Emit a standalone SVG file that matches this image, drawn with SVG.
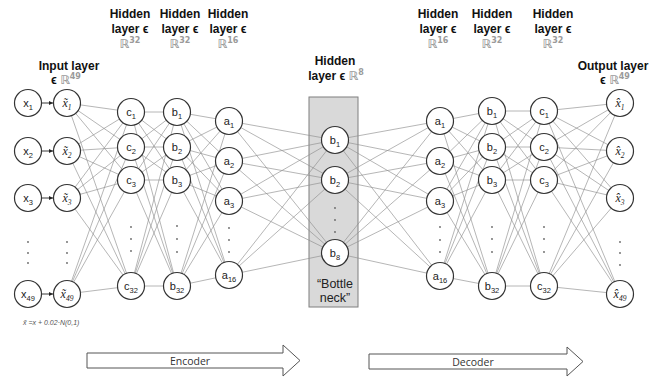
<svg xmlns="http://www.w3.org/2000/svg" width="662" height="380" viewBox="0 0 662 380">
<defs>
<style>
.hd{font-family:"Liberation Sans",Arial,sans-serif;font-weight:bold;font-size:12px;fill:#111;text-anchor:middle}
.rr{fill:#9a9a9a;font-family:"DejaVu Sans","Liberation Sans",sans-serif;font-weight:bold}
.sup{font-size:8px}
.nd circle{fill:#fff;stroke:#333;stroke-width:1.2}
.lb{font-family:"Liberation Sans",Arial,sans-serif;font-size:11px;fill:#222;text-anchor:middle}
.bt{font-family:"Liberation Sans",Arial,sans-serif;font-size:12.5px;fill:#222;text-anchor:middle}
.mt{font-family:"Liberation Serif","DejaVu Serif",serif;font-style:italic;font-size:12px;fill:#222;text-anchor:middle}
.sb{font-size:7.5px}
.dot{fill:#666}
.cn{fill:none;stroke:#8e8e8e;stroke-width:0.65}
.ar{fill:#fff;stroke:#555;stroke-width:1}
.at{font-family:"Open Sans","Liberation Sans",sans-serif;font-size:10.5px;fill:#333;text-anchor:middle}
</style>
<marker id="ah" viewBox="0 0 6 6" refX="6" refY="3" markerWidth="5" markerHeight="5" orient="auto"><path d="M0 0L6 3L0 6z" fill="#222"/></marker>
</defs>
<rect width="662" height="380" fill="#fff"/>

<!-- headers -->
<g id="headers">
<text class="hd" x="69" y="70">Input layer</text>
<text class="hd" x="66" y="84">ϵ <tspan class="rr">ℝ<tspan class="sup" dy="-5">49</tspan></tspan></text>
<text class="hd" x="130" y="18">Hidden</text>
<text class="hd" x="130" y="33">layer ϵ</text>
<text class="hd" x="130" y="48"><tspan class="rr">ℝ<tspan class="sup" dy="-5">32</tspan></tspan></text>
<text class="hd" x="180" y="18">Hidden</text>
<text class="hd" x="180" y="33">layer ϵ</text>
<text class="hd" x="180" y="48"><tspan class="rr">ℝ<tspan class="sup" dy="-5">32</tspan></tspan></text>
<text class="hd" x="228" y="18">Hidden</text>
<text class="hd" x="228" y="33">layer ϵ</text>
<text class="hd" x="228" y="48"><tspan class="rr">ℝ<tspan class="sup" dy="-5">16</tspan></tspan></text>
<text class="hd" x="335" y="65">Hidden</text>
<text class="hd" x="336" y="80">layer ϵ <tspan class="rr">ℝ<tspan class="sup" dy="-5">8</tspan></tspan></text>
<text class="hd" x="438" y="18">Hidden</text>
<text class="hd" x="438" y="33">layer ϵ</text>
<text class="hd" x="438" y="48"><tspan class="rr">ℝ<tspan class="sup" dy="-5">16</tspan></tspan></text>
<text class="hd" x="492" y="18">Hidden</text>
<text class="hd" x="492" y="33">layer ϵ</text>
<text class="hd" x="492" y="48"><tspan class="rr">ℝ<tspan class="sup" dy="-5">32</tspan></tspan></text>
<text class="hd" x="553" y="18">Hidden</text>
<text class="hd" x="553" y="33">layer ϵ</text>
<text class="hd" x="553" y="48"><tspan class="rr">ℝ<tspan class="sup" dy="-5">32</tspan></tspan></text>
<text class="hd" x="613" y="70">Output layer</text>
<text class="hd" x="615" y="84">ϵ <tspan class="rr">ℝ<tspan class="sup" dy="-5">49</tspan></tspan></text>
</g>

<g id="bottleneck-box">
<rect x="309" y="97" width="49" height="210" fill="#d9d9d9" stroke="#7f7f7f" stroke-width="1"/>
<text class="bt" x="335" y="288">“Bottle</text>
<text class="bt" x="335" y="302">neck”</text>
</g>

<g id="connectors">
<path class="cn" d="M67 103L131 112M67 103L131 147M67 103L131 180M67 103L131 286M67 151L131 112M67 151L131 147M67 151L131 180M67 151L131 286M67 198L131 112M67 198L131 147M67 198L131 180M67 198L131 286M67 294L131 112M67 294L131 147M67 294L131 180M67 294L131 286"/>
<path class="cn" d="M131 112L177 112M131 112L177 147M131 112L177 180M131 112L177 286M131 147L177 112M131 147L177 147M131 147L177 180M131 147L177 286M131 180L177 112M131 180L177 147M131 180L177 180M131 180L177 286M131 286L177 112M131 286L177 147M131 286L177 180M131 286L177 286"/>
<path class="cn" d="M177 112L229 121M177 112L229 161M177 112L229 201M177 112L229 275M177 147L229 121M177 147L229 161M177 147L229 201M177 147L229 275M177 180L229 121M177 180L229 161M177 180L229 201M177 180L229 275M177 286L229 121M177 286L229 161M177 286L229 201M177 286L229 275"/>
<path class="cn" d="M229 121L335 140M229 121L335 180M229 121L335 253M229 161L335 140M229 161L335 180M229 161L335 253M229 201L335 140M229 201L335 180M229 201L335 253M229 275L335 140M229 275L335 180M229 275L335 253"/>
<path class="cn" d="M335 140L440 121M335 140L440 161M335 140L440 201M335 140L440 276M335 180L440 121M335 180L440 161M335 180L440 201M335 180L440 276M335 253L440 121M335 253L440 161M335 253L440 201M335 253L440 276"/>
<path class="cn" d="M440 121L492 111M440 121L492 147M440 121L492 180M440 121L492 286M440 161L492 111M440 161L492 147M440 161L492 180M440 161L492 286M440 201L492 111M440 201L492 147M440 201L492 180M440 201L492 286M440 276L492 111M440 276L492 147M440 276L492 180M440 276L492 286"/>
<path class="cn" d="M492 111L544 111M492 111L544 147M492 111L544 180M492 111L544 286M492 147L544 111M492 147L544 147M492 147L544 180M492 147L544 286M492 180L544 111M492 180L544 147M492 180L544 180M492 180L544 286M492 286L544 111M492 286L544 147M492 286L544 180M492 286L544 286"/>
<path class="cn" d="M544 111L620 103M544 111L620 151M544 111L620 198M544 111L620 294M544 147L620 103M544 147L620 151M544 147L620 198M544 147L620 294M544 180L620 103M544 180L620 151M544 180L620 198M544 180L620 294M544 286L620 103M544 286L620 151M544 286L620 198M544 286L620 294"/>
<g stroke="#222" stroke-width="0.9" marker-end="url(#ah)">
<line x1="42" y1="103" x2="53" y2="103"/>
<line x1="42" y1="151" x2="53" y2="151"/>
<line x1="42" y1="198" x2="53" y2="198"/>
<line x1="42" y1="294" x2="53" y2="294"/>
</g>
</g>

<!-- input x -->
<g id="x1" class="nd"><circle cx="28" cy="103" r="13.5"/><text class="lb" x="28" y="107">x<tspan class="sb" dy="2.5">1</tspan></text></g>
<g id="x2" class="nd"><circle cx="28" cy="151" r="13.5"/><text class="lb" x="28" y="155">x<tspan class="sb" dy="2.5">2</tspan></text></g>
<g id="x3" class="nd"><circle cx="28" cy="198" r="13.5"/><text class="lb" x="28" y="202">x<tspan class="sb" dy="2.5">3</tspan></text></g>
<g id="x49" class="nd"><circle cx="28" cy="294" r="13.5"/><text class="lb" x="28" y="298">x<tspan class="sb" dy="2.5">49</tspan></text></g>

<g id="xt1" class="nd"><circle cx="67" cy="103" r="13.5"/><text class="mt" x="67" y="107">x̃<tspan class="sb" dy="2.5">1</tspan></text></g>
<g id="xt2" class="nd"><circle cx="67" cy="151" r="13.5"/><text class="mt" x="67" y="155">x̃<tspan class="sb" dy="2.5">2</tspan></text></g>
<g id="xt3" class="nd"><circle cx="67" cy="198" r="13.5"/><text class="mt" x="67" y="202">x̃<tspan class="sb" dy="2.5">3</tspan></text></g>
<g id="xt49" class="nd"><circle cx="67" cy="294" r="13.5"/><text class="mt" x="67" y="298">x̃<tspan class="sb" dy="2.5">49</tspan></text></g>

<g id="ec1" class="nd"><circle cx="131" cy="112" r="13.5"/><text class="lb" x="131" y="116">c<tspan class="sb" dy="2.5">1</tspan></text></g>
<g id="ec2" class="nd"><circle cx="131" cy="147" r="13.5"/><text class="lb" x="131" y="151">c<tspan class="sb" dy="2.5">2</tspan></text></g>
<g id="ec3" class="nd"><circle cx="131" cy="180" r="13.5"/><text class="lb" x="131" y="184">c<tspan class="sb" dy="2.5">3</tspan></text></g>
<g id="ec32" class="nd"><circle cx="131" cy="286" r="13.5"/><text class="lb" x="131" y="290">c<tspan class="sb" dy="2.5">32</tspan></text></g>

<g id="eb1" class="nd"><circle cx="177" cy="112" r="13.5"/><text class="lb" x="177" y="116">b<tspan class="sb" dy="2.5">1</tspan></text></g>
<g id="eb2" class="nd"><circle cx="177" cy="147" r="13.5"/><text class="lb" x="177" y="151">b<tspan class="sb" dy="2.5">2</tspan></text></g>
<g id="eb3" class="nd"><circle cx="177" cy="180" r="13.5"/><text class="lb" x="177" y="184">b<tspan class="sb" dy="2.5">3</tspan></text></g>
<g id="eb32" class="nd"><circle cx="177" cy="286" r="13.5"/><text class="lb" x="177" y="290">b<tspan class="sb" dy="2.5">32</tspan></text></g>

<g id="ea1" class="nd"><circle cx="229" cy="121" r="13.5"/><text class="lb" x="229" y="125">a<tspan class="sb" dy="2.5">1</tspan></text></g>
<g id="ea2" class="nd"><circle cx="229" cy="161" r="13.5"/><text class="lb" x="229" y="165">a<tspan class="sb" dy="2.5">2</tspan></text></g>
<g id="ea3" class="nd"><circle cx="229" cy="201" r="13.5"/><text class="lb" x="229" y="205">a<tspan class="sb" dy="2.5">3</tspan></text></g>
<g id="ea16" class="nd"><circle cx="229" cy="275" r="13.5"/><text class="lb" x="229" y="279">a<tspan class="sb" dy="2.5">16</tspan></text></g>

<g id="bn1" class="nd"><circle cx="335" cy="140" r="13.5"/><text class="lb" x="335" y="144">b<tspan class="sb" dy="2.5">1</tspan></text></g>
<g id="bn2" class="nd"><circle cx="335" cy="180" r="13.5"/><text class="lb" x="335" y="184">b<tspan class="sb" dy="2.5">2</tspan></text></g>
<g id="bn8" class="nd"><circle cx="335" cy="253" r="13.5"/><text class="lb" x="335" y="257">b<tspan class="sb" dy="2.5">8</tspan></text></g>

<g id="da1" class="nd"><circle cx="440" cy="121" r="13.5"/><text class="lb" x="440" y="125">a<tspan class="sb" dy="2.5">1</tspan></text></g>
<g id="da2" class="nd"><circle cx="440" cy="161" r="13.5"/><text class="lb" x="440" y="165">a<tspan class="sb" dy="2.5">2</tspan></text></g>
<g id="da3" class="nd"><circle cx="440" cy="201" r="13.5"/><text class="lb" x="440" y="205">a<tspan class="sb" dy="2.5">3</tspan></text></g>
<g id="da16" class="nd"><circle cx="440" cy="276" r="13.5"/><text class="lb" x="440" y="280">a<tspan class="sb" dy="2.5">16</tspan></text></g>

<g id="db1" class="nd"><circle cx="492" cy="111" r="13.5"/><text class="lb" x="492" y="115">b<tspan class="sb" dy="2.5">1</tspan></text></g>
<g id="db2" class="nd"><circle cx="492" cy="147" r="13.5"/><text class="lb" x="492" y="151">b<tspan class="sb" dy="2.5">2</tspan></text></g>
<g id="db3" class="nd"><circle cx="492" cy="180" r="13.5"/><text class="lb" x="492" y="184">b<tspan class="sb" dy="2.5">3</tspan></text></g>
<g id="db32" class="nd"><circle cx="492" cy="286" r="13.5"/><text class="lb" x="492" y="290">b<tspan class="sb" dy="2.5">32</tspan></text></g>

<g id="dc1" class="nd"><circle cx="544" cy="111" r="13.5"/><text class="lb" x="544" y="115">c<tspan class="sb" dy="2.5">1</tspan></text></g>
<g id="dc2" class="nd"><circle cx="544" cy="147" r="13.5"/><text class="lb" x="544" y="151">c<tspan class="sb" dy="2.5">2</tspan></text></g>
<g id="dc3" class="nd"><circle cx="544" cy="180" r="13.5"/><text class="lb" x="544" y="184">c<tspan class="sb" dy="2.5">3</tspan></text></g>
<g id="dc32" class="nd"><circle cx="544" cy="286" r="13.5"/><text class="lb" x="544" y="290">c<tspan class="sb" dy="2.5">32</tspan></text></g>

<g id="xh1" class="nd"><circle cx="620" cy="103" r="13.5"/><text class="mt" x="620" y="107">x̂<tspan class="sb" dy="2.5">1</tspan></text></g>
<g id="xh2" class="nd"><circle cx="620" cy="151" r="13.5"/><text class="mt" x="620" y="155">x̂<tspan class="sb" dy="2.5">2</tspan></text></g>
<g id="xh3" class="nd"><circle cx="620" cy="198" r="13.5"/><text class="mt" x="620" y="202">x̂<tspan class="sb" dy="2.5">3</tspan></text></g>
<g id="xh49" class="nd"><circle cx="620" cy="294" r="13.5"/><text class="mt" x="620" y="298">x̂<tspan class="sb" dy="2.5">49</tspan></text></g>

<g id="ellipses">
<circle class="dot" cx="28" cy="242" r="0.9"/><circle class="dot" cx="28" cy="253" r="0.9"/><circle class="dot" cx="28" cy="263" r="0.9"/>
<circle class="dot" cx="67" cy="242" r="0.9"/><circle class="dot" cx="67" cy="253" r="0.9"/><circle class="dot" cx="67" cy="263" r="0.9"/>
<circle class="dot" cx="131" cy="227" r="0.9"/><circle class="dot" cx="131" cy="239" r="0.9"/><circle class="dot" cx="131" cy="251" r="0.9"/>
<circle class="dot" cx="177" cy="226" r="0.9"/><circle class="dot" cx="177" cy="239" r="0.9"/><circle class="dot" cx="177" cy="252" r="0.9"/>
<circle class="dot" cx="229" cy="228" r="0.9"/><circle class="dot" cx="229" cy="240" r="0.9"/><circle class="dot" cx="229" cy="252" r="0.9"/>
<circle class="dot" cx="335" cy="208" r="0.9"/><circle class="dot" cx="335" cy="220" r="0.9"/><circle class="dot" cx="335" cy="232" r="0.9"/>
<circle class="dot" cx="440" cy="227" r="0.9"/><circle class="dot" cx="440" cy="240" r="0.9"/><circle class="dot" cx="440" cy="252" r="0.9"/>
<circle class="dot" cx="492" cy="227" r="0.9"/><circle class="dot" cx="492" cy="239" r="0.9"/><circle class="dot" cx="492" cy="252" r="0.9"/>
<circle class="dot" cx="544" cy="227" r="0.9"/><circle class="dot" cx="544" cy="239" r="0.9"/><circle class="dot" cx="544" cy="252" r="0.9"/>
<circle class="dot" cx="620" cy="242" r="0.9"/><circle class="dot" cx="620" cy="253" r="0.9"/><circle class="dot" cx="620" cy="265" r="0.9"/>
</g>

<text x="23" y="325" font-family="Liberation Sans,Arial,sans-serif" font-style="italic" font-size="7" fill="#555">x̃ =x + 0.02·N(0,1)</text>

<g id="encoder">
<path class="ar" d="M87 353H283V345L300 360.5L283 376V368H87Z"/>
<text class="at" x="190" y="365">Encoder</text>
</g>
<g id="decoder">
<path class="ar" d="M369 354H567V347L583 361.5L567 376V369H369Z"/>
<text class="at" x="473" y="366">Decoder</text>
</g>
</svg>
